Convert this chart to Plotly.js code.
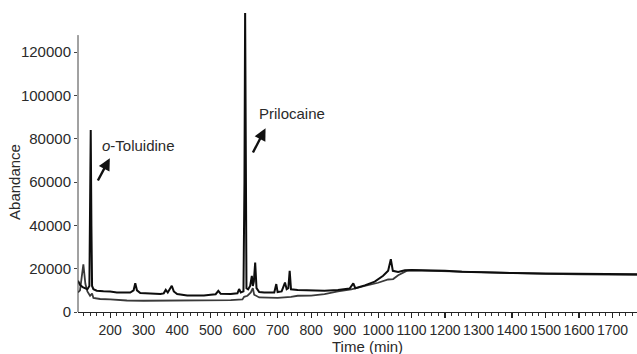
<!DOCTYPE html>
<html>
<head>
<meta charset="utf-8">
<script src="https://cdn.plot.ly/plotly-3.0.1.min.js"></script>
<style>html,body{margin:0;padding:0;background:#fff;}#chart{width:637px;height:354px;}</style>
</head>
<body>
<div id="chart"></div>
<script>
// Sample chromatogram (dark trace)
const sampleTime = [104,110,118,125,132,138,140,142,144,146,150,160,180,200,220,240,260,270,275,280,290,320,350,360,366,372,378,384,390,400,430,460,480,500,515,523,530,560,580,585,590,598,601,603,605,607,612,618,623,626,629,633,637,645,660,690,696,700,712,718,722,727,732,736,740,760,800,840,880,915,926,932,960,990,1015,1030,1038,1044,1060,1080,1100,1150,1200,1250,1300,1400,1500,1600,1700,1773];
const sampleAbund = [14400,12500,11500,11000,10500,12000,40000,84000,40000,12000,10500,9800,9600,9500,9000,8900,9000,10000,13300,10000,8800,8500,8300,8600,10200,9000,10500,12100,9500,8300,7600,7500,7600,8000,8200,9800,8400,8300,8600,10600,9000,9500,60000,140000,60000,11000,10500,12000,16700,12000,14000,22800,11000,9200,9000,9000,12900,9200,9500,11500,13600,10500,11000,19000,10500,10200,10000,9800,10200,10800,13200,11000,12300,14000,16700,19000,24400,19000,18500,19300,19400,19300,19000,18600,18300,18000,17800,17600,17500,17400];
// Blank / reference chromatogram (lighter trace)
const blankTime = [104,110,115,120,126,132,140,146,150,170,200,250,300,400,500,560,595,600,610,620,626,630,645,700,740,760,800,840,880,920,960,1000,1030,1045,1060,1085,1100,1200,1300,1400,1500,1600,1700,1773];
const blankAbund = [9000,10000,16000,22000,13000,9500,7500,8500,6500,6000,5800,5300,5200,5200,5300,5500,5800,7000,7500,9000,11000,8000,6700,6500,7000,7500,7600,8300,9500,10500,12000,13500,15000,15200,17000,19000,19200,18800,18200,17900,17600,17400,17300,17200];

const yTicks = [0,20000,40000,60000,80000,100000,120000];
const xTicks = [200,300,400,500,600,700,800,900,1000,1100,1200,1300,1400,1500,1600,1700];
const peakLabels = [
  {text:'<i>o</i>-Toluidine', x:286, y:77000},
  {text:'Prilocaine', x:743, y:91800}
];
const peakArrows = [
  {x:199, y:71000, ax:161, ay:60000},
  {x:664, y:84800, ax:624, ay:72900}
];

const FONT = 'Liberation Sans, Arial, Helvetica, sans-serif';
const TXT = '#2a2a2a';

const traces = [
  {x: blankTime, y: blankAbund, type:'scatter', mode:'lines', line:{color:'#3a3a3a', width:1.8}, hoverinfo:'skip'},
  {x: sampleTime, y: sampleAbund, type:'scatter', mode:'lines', line:{color:'#0d0d0d', width:2}, hoverinfo:'skip'}
];

const annotations = [];
peakLabels.forEach(p => annotations.push({x:p.x, y:p.y, xref:'x', yref:'y', text:p.text, showarrow:false, xanchor:'center', yanchor:'middle', font:{family:FONT, size:15, color:TXT}}));
peakArrows.forEach(a => annotations.push({x:a.x, y:a.y, xref:'x', yref:'y', ax:a.ax, ay:a.ay, axref:'x', ayref:'y', text:'', showarrow:true, arrowhead:2, arrowsize:1, arrowwidth:2.4, arrowcolor:'#111'}));
annotations.push({x:0.517, y:-0.117, xref:'paper', yref:'paper', text:'Time (min)', showarrow:false, xanchor:'center', yanchor:'middle', font:{family:FONT, size:15, color:TXT}});
annotations.push({x:-0.1127, y:0.435, xref:'paper', yref:'paper', text:'Abandance', textangle:-90, showarrow:false, xanchor:'center', yanchor:'middle', font:{family:FONT, size:15, color:TXT}});

const layout = {
  width:637, height:354,
  margin:{l:78, r:0, t:13, b:42, pad:0},
  paper_bgcolor:'#fff', plot_bgcolor:'#fff',
  showlegend:false,
  font:{family:FONT, color:TXT},
  xaxis:{
    range:[104,1773], tickmode:'array', tickvals:xTicks, ticktext:xTicks.map(String),
    tickangle:0,
    ticks:'outside', ticklen:5, tickwidth:1.2, tickcolor:'#222',
    minor:{dtick:20, tick0:0, ticks:'outside', ticklen:3, tickwidth:1, tickcolor:'#333', showgrid:false},
    showline:true, linecolor:'#222', linewidth:1.2,
    showgrid:false, zeroline:false,
    tickfont:{family:FONT, size:14, color:TXT}
  },
  yaxis:{
    range:[0,138000], tickmode:'array', tickvals:yTicks, ticktext:yTicks.map(String),
    ticks:'outside', ticklen:3, tickwidth:1, tickcolor:'#444',
    showline:false, showgrid:false, zeroline:false,
    tickfont:{family:FONT, size:15, color:TXT}
  },
  shapes:[{type:'line', xref:'paper', yref:'y', x0:0, x1:0, y0:0, y1:127800, line:{color:'#444', width:1}}],
  annotations: annotations
};

Plotly.newPlot('chart', traces, layout, {staticPlot:true, displayModeBar:false});
</script>
</body>
</html>
